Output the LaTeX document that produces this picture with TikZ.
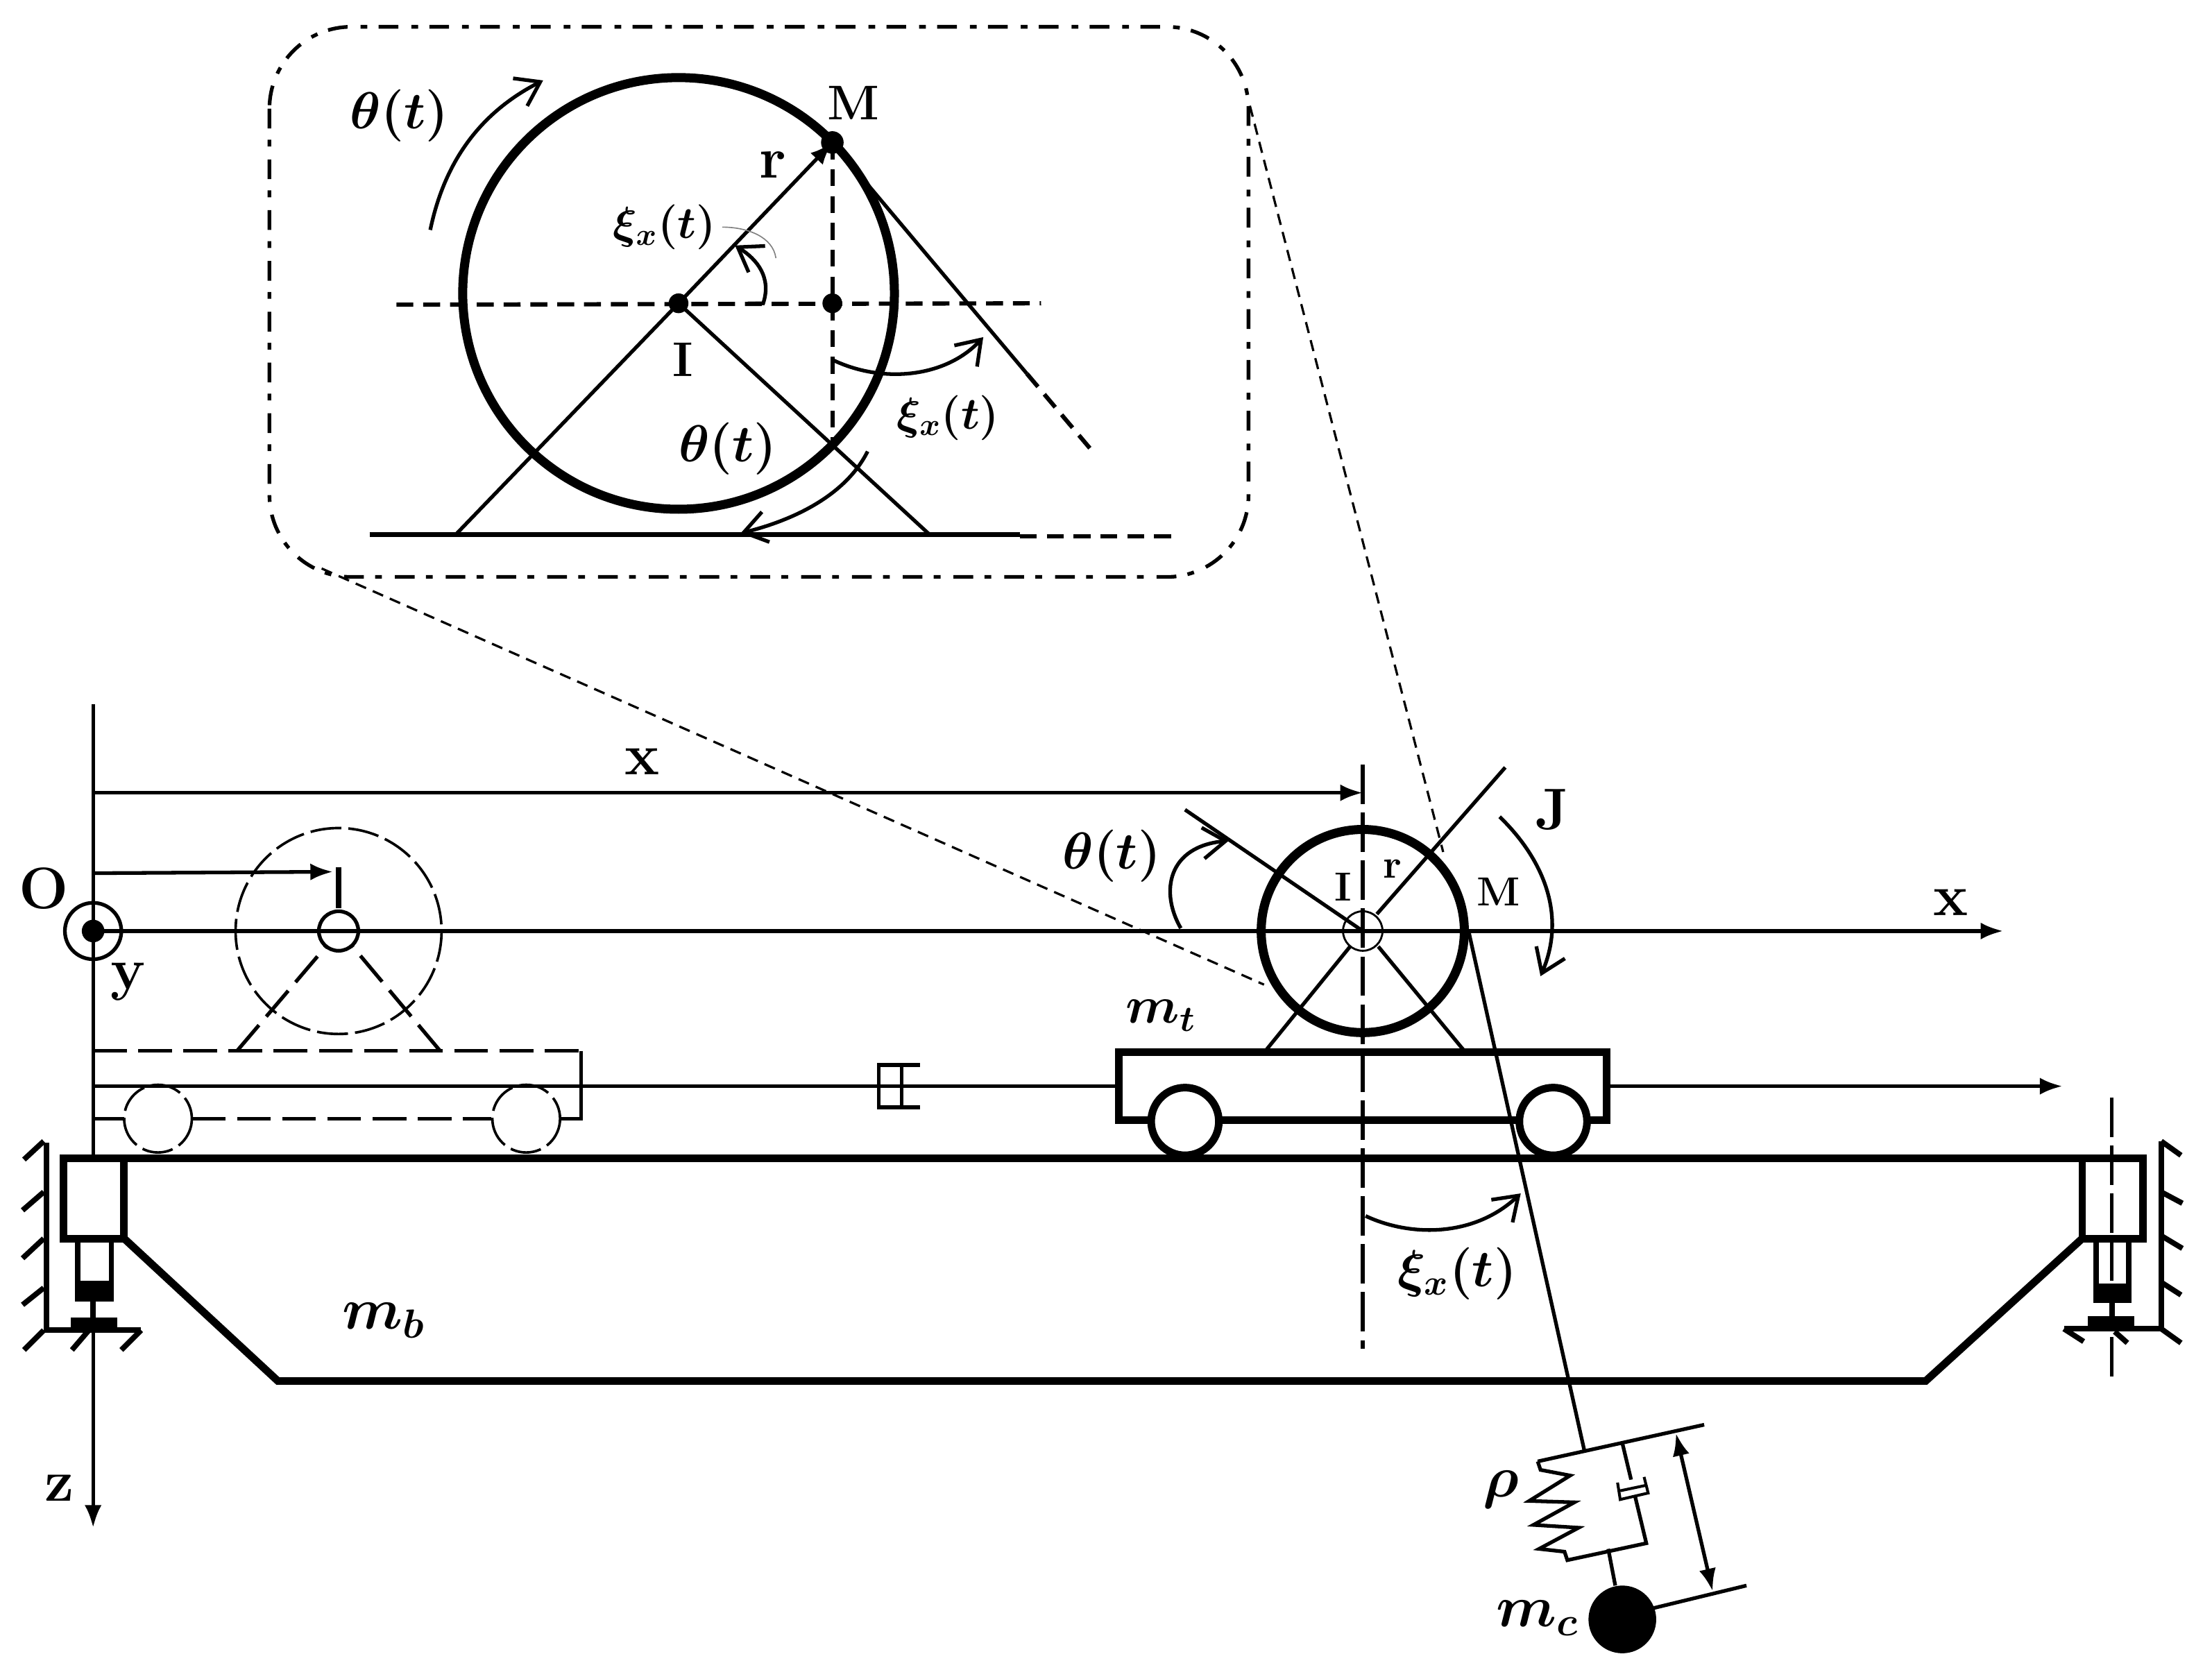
\documentclass[tikz,border=0pt]{standalone}
\usepackage{amsmath}
\usepackage{amssymb}
\usetikzlibrary{arrows.meta,calc}
\tikzset{
  thinline/.style={line width=1.3pt},
  thickline/.style={line width=2.7pt},
  wheelline/.style={line width=3.2pt},
  midline/.style={line width=1.9pt},
  arcarrow/.style={thinline,-{Straight Barb[length=8pt,width=11pt]}},
  dimarrow/.style={thinline,-{Latex[length=8pt,width=6pt]}},
  dimboth/.style={thinline,{Latex[length=8pt,width=6pt]}-{Latex[length=8pt,width=6pt]}},
  zoomline/.style={line width=.8pt,dash pattern=on 4pt off 2.6pt},
  framedash/.style={line width=1.3pt,dash pattern=on 7pt off 4pt on 2.4pt off 4.6pt},
  axisdash/.style={line width=1.5pt,dash pattern=on 6pt off 3.5pt},
  ghost/.style={line width=.9pt,dash pattern=on 11pt off 2.5pt},
  ghostbar/.style={line width=1.3pt,dash pattern=on 12pt off 4pt},
  centre/.style={line width=1.3pt,dash pattern=on 14pt off 3pt},
  biglab/.style={font=\huge\bfseries\boldmath,inner sep=0pt},
  mathlab/.style={biglab,scale=.89},
  smalllab/.style={font=\Large\bfseries\boldmath,inner sep=0pt},
  midlab/.style={font=\LARGE\bfseries\boldmath,inner sep=0pt},
  ximath/.style={midlab,scale=.92}
}
\begin{document}
\begin{tikzpicture}[x=.5pt,y=-.5pt]
      \useasboundingbox (0,0) rectangle (1568,1190);

      \draw[framedash, rounded corners=29pt] (191,19) rectangle (885,409);

      \coordinate (I) at (481,215);
      \coordinate (W) at (481,208);
      \coordinate (M) at (590,101);
      \coordinate (Mf) at (590,215);
      \coordinate (gl) at (323,379);
      \coordinate (gr) at (659,379);
      \coordinate (tg) at (728,265);

      \draw[wheelline] (W) circle (153);
      \draw[axisdash] (281,216) -- (738,215);
      \draw[axisdash] (M) -- (590,314);
      \draw[midline] (262,379) -- (723,379);
      \draw[axisdash] (723,380) -- (832,380);
      \draw[thinline] (I) -- (gl);
      \draw[thinline] (I) -- (gr);
      \draw[dimarrow] (I) -- (M);
      \draw[thinline] (M) -- (tg);
      \draw[axisdash] (tg) -- (777,323);
      \fill (I) circle (7);
      \fill (Mf) circle (7);
      \fill (M) circle (8);

      \draw[arcarrow] (305,163) .. controls (315,115) and (340,80) .. (385,57);
      \draw[arcarrow] (530,215) -- (541,215) .. controls (547,197) and (537,184) .. (521,174);
      \draw[line width=.4pt,gray] (512,161) .. controls (530,161) and (548,168) .. (550,183);
      \draw[arcarrow] (590,255) .. controls (625,272) and (670,268) .. (697,239);
      \draw[arcarrow] (615,320) .. controls (600,350) and (565,368) .. (525,378);

      \node[mathlab] (thI) at (283,82) {$\theta(t)$};
      \node[ximath] (xiI) at (471,161) {$\xi_x(t)$};
      \node[biglab] (rI) at (548,117) {r};
      \node[midlab] (MI) at (605,73) {M};
      \node[midlab] (II) at (484,255) {I};
      \node[mathlab] (thL) at (516,318) {$\theta(t)$};
      \node[ximath] (xiL) at (672,296) {$\xi_x(t)$};

      \coordinate (O) at (66,660);
      \coordinate (T) at (966,660);
      \draw[zoomline] (228,403) -- (896,698);
      \draw[zoomline] (886,75) -- (1023,604);

      \draw[thinline] (66,499) -- (O) -- (66,820);
      \draw[dimarrow] (66,935) -- (66,1083);
      \draw[dimarrow] (66,562) -- (966,562);
      \draw[dimarrow] (66,619) -- (236,618);
      \draw[midline] (240,615) -- (240,644);
      \draw[dimarrow] (O) -- (1420,660);
      \draw[thinline] (O) circle (20);
      \fill (O) circle (8);

      \draw[ghost] (240,660) circle (73);
      \draw[thinline] (240,660) circle (14);
      \draw[ghostbar] (168,745) -- (231,671);
      \draw[ghostbar] (312,745) -- (250,671);
      \draw[ghostbar] (66,745) -- (412,745);
      \draw[thinline] (412,745) -- (412,793) -- (398,793);
      \draw[ghostbar] (66,793) -- (88,793);
      \draw[ghostbar] (136,793) -- (348,793);
      \draw[ghost] (112,793) circle (24);
      \draw[ghost] (373,793) circle (24);

      \draw[thinline] (66,770) -- (623,770);
      \draw[thinline] (623,770) -- (639,770);
      \draw[thinline] (652,755) -- (623,755) -- (623,785) -- (652,785);
      \draw[thinline] (639,755) -- (639,785);
      \draw[thinline] (639,770) -- (792,770);
      \draw[dimarrow] (1140,770) -- (1462,770);

      \draw[thickline] (793,746) rectangle (1139,794);
      \draw[thickline,fill=white] (840,795) circle (24);
      \draw[thickline,fill=white] (1101,795) circle (24);

      \draw[wheelline] (T) circle (72);
      \draw[line width=.7pt] (T) circle (14);
      \draw[centre] (966,542) -- (966,956);
      \draw[thinline] (840,574) -- (T);
      \draw[thinline] (976,648) -- (1067,544);
      \draw[thinline] (957,671) -- (897,745);
      \draw[thinline] (977,671) -- (1038,745);

      \draw[thickline] (44,821) -- (1519,821);
      \draw[thickline] (45,821) rectangle (88,878);
      \draw[thickline] (1476,821) rectangle (1519,878);
      \draw[thickline] (88,878) -- (197,979) -- (1365,979) -- (1476,878);

      \draw[midline] (55,878) -- (55,921) -- (79,921) -- (79,878);
      \fill (55,908) rectangle (79,922);
      \draw[midline] (66,921) -- (66,936);
      \fill (50,934) rectangle (83,942);
      \draw[midline] (33,810) -- (33,943) -- (100,943);
      \draw[midline] (31,809) -- (17,822);
      \draw[midline] (31,845) -- (16,858);
      \draw[midline] (31,878) -- (16,892);
      \draw[midline] (31,913) -- (16,925);
      \draw[midline] (31,943) -- (17,957);
      \draw[midline] (63,943) -- (51,957);
      \draw[midline] (100,943) -- (86,957);

      \draw[midline] (1486,878) -- (1486,922) -- (1509,922) -- (1509,878);
      \fill (1486,910) rectangle (1509,923);
      \draw[midline] (1497,922) -- (1497,935);
      \fill (1480,933) rectangle (1513,940);
      \draw[midline] (1532,809) -- (1532,942) -- (1463,942);
      \draw[midline] (1532,809) -- (1546,819);
      \draw[midline] (1532,845) -- (1547,853);
      \draw[midline] (1532,876) -- (1547,885);
      \draw[midline] (1532,909) -- (1546,918);
      \draw[midline] (1532,942) -- (1546,952);
      \draw[midline] (1463,942) -- (1477,951);
      \draw[midline] (1499,944) -- (1508,952);
      \draw[centre] (1497,778) -- (1497,978);

      \coordinate (cab) at (1123,1028);
      \coordinate (mc) at (1150,1148);
      \draw[thinline] (1041,660) -- (cab);
      \draw[thinline] (1090,1036) -- (1208,1010);
      \draw[thinline] (1090,1036) -- (1092,1042) -- (1113,1046) -- (1084,1064) -- (1116,1065) -- (1087,1081) -- (1119,1083) -- (1091,1098) -- (1109,1100) -- (1111,1106) -- (1167,1094) -- (1150,1023);
      \draw[line width=1pt,fill=white] (1146.6,1051) -- (1148.5,1063) -- (1168.3,1058.4) -- (1165.4,1047);
      \draw[line width=1pt] (1148.5,1056.8) -- (1166.5,1053);
      \draw[thinline] (1140,1098) -- (1145,1124);
      \fill (mc) circle (24);
      \draw[thinline] (1172,1140) -- (1238,1124);
      \draw[dimboth] (1188,1016) -- (1214,1128);

      \draw[arcarrow] (837,658) .. controls (822,632) and (828,600) .. (871,596);
      \draw[arcarrow] (1063,579) .. controls (1090,605) and (1112,645) .. (1092,692);
      \draw[arcarrow] (968,862) .. controls (1000,877) and (1045,877) .. (1078,846);

      \node[biglab] (O lab) at (31,630) {O};
      \node[biglab] (y lab) at (91,696) {y};
      \node[biglab] (z lab) at (42,1055) {z};
      \node[biglab] (x lab) at (455,540) {x};
      \node[biglab] (X lab) at (1383,640) {x};
      \node[biglab] (mb) at (272,936) {$m_b$};
      \node[mathlab] (mt) at (823,720) {$m_t$};
      \node[mathlab] (thM) at (788,607) {$\theta(t)$};
      \node[smalllab] (IM) at (952,629) {I};
      \node[smalllab] (rM) at (987,616) {r};
      \node[smalllab] (MM) at (1062,632) {M};
      \node[biglab] (JM) at (1100,574) {J};
      \node[mathlab] (xiM) at (1033,903) {$\xi_x(t)$};
      \node[biglab] (rho) at (1064,1056) {$\rho$};
      \node[biglab] (mcl) at (1090,1147) {$m_c$};
\end{tikzpicture}
\end{document}
